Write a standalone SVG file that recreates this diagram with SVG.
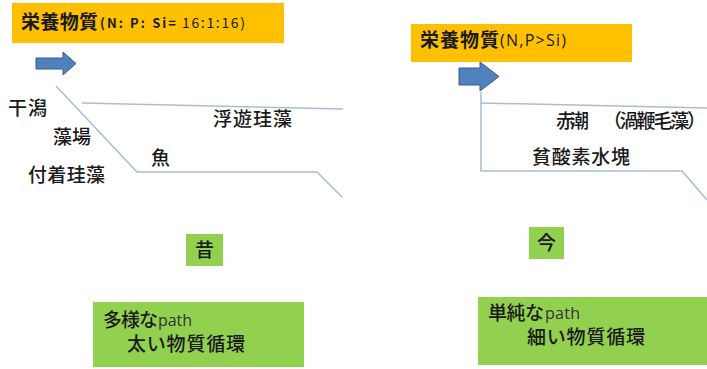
<svg xmlns="http://www.w3.org/2000/svg" width="707" height="369" viewBox="0 0 707 369">
<style>
text{font-family:"Noto Sans CJK JP","Noto Sans",sans-serif;fill:#1a1a1a}
.big{font-size:19px;font-weight:700}
.small{font-size:13px}
.lbl{font-size:19px;font-weight:500}
.path{font-family:"Open Sans","Noto Sans",sans-serif;font-size:16px;font-weight:400;fill:#333}
.orange{fill:#ffc000}
.green{fill:#92d050}
.arrow{fill:#4f81bd;stroke:#385d8a;stroke-width:1}
.line{fill:none;stroke:#a9bdd1;stroke-width:1.5}
</style>
<rect width="707" height="369" fill="#ffffff"/>
<g id="nutrient-left">
<rect class="orange" x="12" y="3" width="272" height="40"/>
<text x="21" y="29" class="big" textLength="77">栄養物質</text>
<text x="100" y="28" class="small" font-weight="700" fill="#333" textLength="76" lengthAdjust="spacing">(N: P: Si=</text>
<text x="182" y="28" class="small" fill="#444" style="font-size:14px" textLength="63" lengthAdjust="spacing">16:1:16)</text>
</g>
<g id="nutrient-right">
<rect class="orange" x="411" y="24" width="221" height="38"/>
<text x="420" y="47" class="big" textLength="79">栄養物質</text>
<text x="500" y="46" style="font-size:16px;font-family:'Open Sans','Noto Sans',sans-serif" fill="#333" textLength="66">(N,P&gt;Si)</text>
</g>
<g id="arrow-left">
<path class="arrow" d="M36 58H63V52L76 63.5L63 75V69H36Z"/>
</g>
<g id="arrow-right">
<path class="arrow" d="M459 68H480V62L499 76.5L480 91V85H459Z"/>
</g>
<g id="connectors">
<path class="line" d="M56 86L137 172H317L342 197"/>
<path class="line" d="M82 103L343 109"/>
<path class="line" d="M481 92V171H682L707 200"/>
<path class="line" d="M481 103L707 108"/>
</g>
<g id="label-left">
<text x="8" y="115" class="lbl" textLength="39">干潟</text>
<text x="53" y="144" class="lbl" textLength="38">藻場</text>
<text x="28" y="182" class="lbl" textLength="77">付着珪藻</text>
<text x="151" y="165" class="lbl">魚</text>
<text x="213" y="126" class="lbl" textLength="79">浮遊珪藻</text>
</g>
<g id="label-right">
<text x="556" y="128" class="lbl" textLength="33">赤潮</text>
<text x="603" y="128" class="lbl" textLength="103">（渦鞭毛藻）</text>
<text x="532" y="164" class="lbl" textLength="98">貧酸素水塊</text>
</g>
<g id="mukashi">
<rect class="green" x="186" y="234" width="37" height="32"/>
<text x="204.5" y="257" class="lbl" text-anchor="middle">昔</text>
</g>
<g id="ima">
<rect class="green" x="529" y="227" width="35" height="32"/>
<text x="546.5" y="250" class="lbl" text-anchor="middle">今</text>
</g>
<g id="box-left">
<rect class="green" x="93" y="302" width="211" height="65"/>
<text x="103" y="327" class="lbl" textLength="55">多様な</text>
<text x="158" y="326" class="path" textLength="34">path</text>
<text x="127" y="351" class="lbl" textLength="118">太い物質循環</text>
</g>
<g id="box-right">
<rect class="green" x="478" y="297" width="229" height="68"/>
<text x="488" y="320" class="lbl" textLength="56">単純な</text>
<text x="545" y="319" class="path" textLength="35">path</text>
<text x="527" y="344" class="lbl" textLength="118">細い物質循環</text>
</g>
</svg>
